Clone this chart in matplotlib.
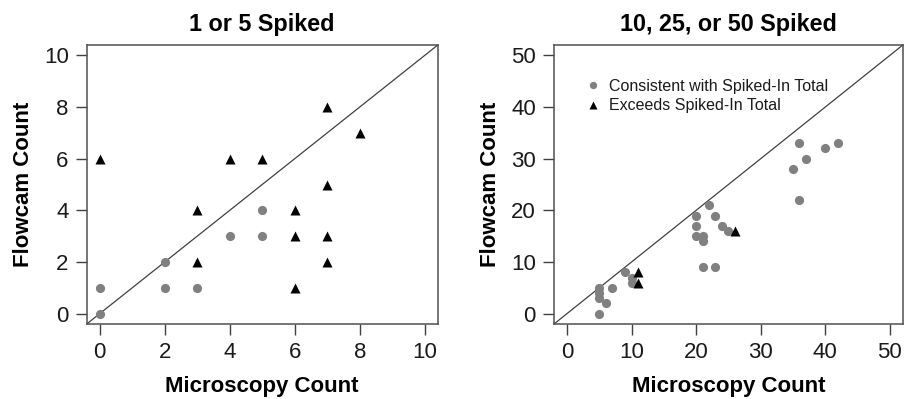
import numpy as np
import matplotlib
matplotlib.use("Agg")
import matplotlib.pyplot as plt

plt.rcParams['font.family'] = ['Liberation Sans', 'DejaVu Sans']

# ---- pannello sinistro: 1 o 5 spiked ----
low_ok_x = [0, 0, 2, 2, 3, 4, 5, 5]
low_ok_y = [1, 0, 2, 1, 1, 3, 3, 4]
low_ex_x = [0, 3, 3, 4, 5, 6, 6, 6, 7, 7, 7, 7, 8]
low_ex_y = [6, 4, 2, 6, 6, 4, 3, 1, 8, 5, 3, 2, 7]

# ---- pannello destro: 10, 25 o 50 spiked ----
high_ok_x = [5, 5, 5, 5, 6, 7, 9, 10, 10,
             20, 20, 20, 21, 21, 21, 22, 23, 23, 24, 25,
             35, 36, 36, 37, 40, 42]
high_ok_y = [0, 5, 4, 3, 2, 5, 8, 7, 6,
             19, 17, 15, 15, 14, 9, 21, 19, 9, 17, 16,
             28, 33, 22, 30, 32, 33]
high_ex_x = [11, 11, 26]
high_ex_y = [8, 6, 16]

titles = ["1 or 5 Spiked", "10, 25, or 50 Spiked"]
xlabel = "Microscopy Count"
ylabel = "Flowcam Count"
legend_labels = ["Consistent with Spiked-In Total", "Exceeds Spiked-In Total"]

GRAY = "#808080"
FS = 16

fig = plt.figure(figsize=(9.06, 3.99), dpi=100)
ax1 = fig.add_axes([0.0957, 0.188, 0.3874, 0.699])
ax2 = fig.add_axes([0.6115, 0.188, 0.3849, 0.699])


def pannello(ax, okx, oky, exx, exy, lim, ticks, titolo):
    pad = (lim[1] - lim[0]) * 0.04
    lo, hi = lim[0] - pad, lim[1] + pad
    ax.set_xlim(lo, hi)
    ax.set_ylim(lo, hi)
    ax.plot([lo, hi], [lo, hi], color="#404040", lw=0.9, zorder=1)
    h1, = ax.plot(okx, oky, "o", color=GRAY, ms=6.6, mec="none", zorder=3)
    h2, = ax.plot(exx, exy, "^", color="black", ms=7.2, mec="none", zorder=3)
    ax.set_xticks(ticks)
    ax.set_yticks(ticks)
    ax.tick_params(direction="out", length=8, width=1, color="#404040",
                   labelsize=FS, labelcolor="#1a1a1a", pad=5)
    for s in ax.spines.values():
        s.set_color("#505050")
        s.set_linewidth(1.1)
    ax.set_title(titolo, fontsize=16.8, fontweight="bold", pad=10)
    ax.set_xlabel(xlabel, fontsize=FS, fontweight="bold", labelpad=9)
    ax.set_ylabel(ylabel, fontsize=FS, fontweight="bold", labelpad=7)
    return h1, h2


pannello(ax1, low_ok_x, low_ok_y, low_ex_x, low_ex_y, (0, 10),
         np.arange(0, 11, 2), titles[0])
h1, h2 = pannello(ax2, high_ok_x, high_ok_y, high_ex_x, high_ex_y, (0, 50),
                  np.arange(0, 51, 10), titles[1])

leg = ax2.legend([h1, h2], legend_labels, loc="upper left",
                 bbox_to_anchor=(0.088, 0.88), frameon=False, fontsize=11.5,
                 handlelength=1.0, handletextpad=0.5, labelspacing=0.3,
                 borderaxespad=0, borderpad=0, markerscale=0.8)
for t in leg.get_texts():
    t.set_color("#1a1a1a")

fig.savefig("out.png", dpi=100)
